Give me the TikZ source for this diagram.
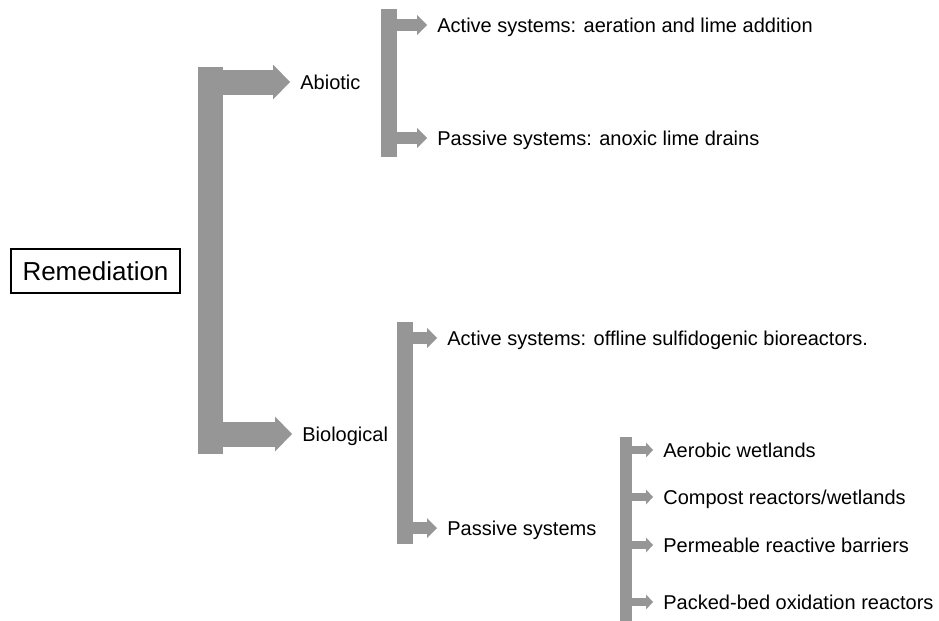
\documentclass[tikz,border=0pt]{standalone}
\usepackage{fontspec}
\setmainfont{Liberation Sans}
\usetikzlibrary{arrows.meta}
\definecolor{bargray}{RGB}{150,150,150}

\begin{document}
\begin{tikzpicture}[
  x=0.5pt,y=-0.5pt,
  bar/.style={fill=bargray,inner sep=0pt,outer sep=0pt},
  item/.style={anchor=west,inner sep=2pt,text height=7.2pt,text depth=0pt,
    font=\fontsize{10}{12}\selectfont},
  bigarrow/.style={bargray,line width=12.5pt,shorten >=3pt,
    -{Triangle[length=8.5pt,width=17.5pt,line width=0pt]}},
  midarrow/.style={bargray,line width=6pt,shorten >=3pt,
    -{Triangle[length=5pt,width=10pt,line width=0pt]}},
  smallarrow/.style={bargray,line width=4pt,shorten >=3pt,
    -{Triangle[length=3.5pt,width=7.5pt,line width=0pt]}}
]
  \useasboundingbox (0,0) rectangle (939,621);
  \node[draw,line width=0.6pt,minimum width=84.5pt,minimum height=22pt,
    font=\fontsize{13}{15}\selectfont] (remed) at (95.5,271) {Remediation};

  \node[bar,minimum width=12.5pt,minimum height=193.5pt] (trunk) at (210.5,260.5) {};
  \node[bar,minimum width=8pt,minimum height=74pt] (abiobar) at (389,83) {};
  \node[bar,minimum width=8pt,minimum height=111pt] (biobar) at (405,433) {};
  \node[bar,minimum width=6pt,minimum height=92pt] (passbar) at (626,529) {};

  \node[item] (abiotic) at (296,82) {Abiotic};
  \node[item] (biological) at (298,434) {Biological};
  \node[item] (abioactive) at (433,25) {Active systems: aeration and lime addition};
  \node[item] (abiopassive) at (433,138) {Passive systems: anoxic lime drains};
  \node[item] (bioactive) at (443,338) {Active systems: offline sulfidogenic bioreactors.};
  \node[item] (biopassive) at (443,528) {Passive systems};
  \node[item] (aerobic) at (659,450) {Aerobic wetlands};
  \node[item] (compost) at (659,497) {Compost reactors/wetlands};
  \node[item] (barriers) at (659,545) {Permeable reactive barriers};
  \node[item] (packed) at (659,602) {Packed-bed oxidation reactors};

  \draw[bigarrow] (trunk.east |- abiotic.west) -- (abiotic.west);
  \draw[bigarrow] (trunk.east |- biological.west) -- (biological.west);
  \draw[midarrow] (abiobar.east |- abioactive.west) -- (abioactive.west);
  \draw[midarrow] (abiobar.east |- abiopassive.west) -- (abiopassive.west);
  \draw[midarrow] (biobar.east |- bioactive.west) -- (bioactive.west);
  \draw[midarrow] (biobar.east |- biopassive.west) -- (biopassive.west);
  \draw[smallarrow] (passbar.east |- aerobic.west) -- (aerobic.west);
  \draw[smallarrow] (passbar.east |- compost.west) -- (compost.west);
  \draw[smallarrow] (passbar.east |- barriers.west) -- (barriers.west);
  \draw[smallarrow] (passbar.east |- packed.west) -- (packed.west);
\end{tikzpicture}
\end{document}
